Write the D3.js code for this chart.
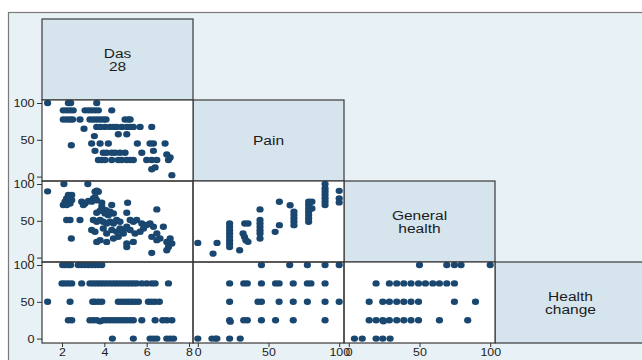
<!DOCTYPE html>
<html>
<head>
<meta charset="utf-8">
<script src="https://cdn.jsdelivr.net/npm/d3@7"></script>
<style>
  html, body { margin: 0; padding: 0; background: #ffffff; }
  svg { display: block; }
  text { font-family: Arial, "Liberation Sans", sans-serif; fill: #1c1c1c; }
</style>
</head>
<body>
<svg id="chart" width="642" height="360"></svg>
<script>
// Variables of the half scatter-plot matrix
const variables = ["Das\n28", "Pain", "General\nhealth", "Health\nchange"];

// Tick labels
const das28Ticks = [2, 4, 6, 8];
const scoreTicks = [0, 50, 100];

// Das28 (x) against Pain (y)
const das28VsPain = [
  [1.32,100],[2.30,100],[2.41,100],[3.64,100],
  [2.06,90],[2.22,90],[2.38,90],[2.53,90],[3.09,90],[3.25,90],[3.40,90],[3.56,90],[3.72,90],[4.35,90],
  [2.06,77.5],[2.22,77.5],[2.38,77.5],[2.50,77.5],[2.85,77.5],[3.32,77.5],[3.48,77.5],[3.64,77.5],[3.80,77.5],
  [3.95,77.5],[4.08,77.5],[4.98,77.5],[5.14,77.5],[5.22,77.5],
  [3.04,65],
  [3.64,67.5],[3.80,67.5],[4.03,67.5],[4.27,67.5],[4.43,67.5],[4.58,67.5],[4.82,67.5],[5.06,67.5],[5.22,67.5],
  [5.37,67.5],[5.69,67.5],[6.24,67.5],
  [4.66,57.5],[5.06,57.5],[3.53,55],[2.44,42.5],
  [3.40,45],[3.80,45],[4.19,45],[5.56,45],[6.16,45],[6.32,45],[6.87,45],
  [3.56,35],
  [3.95,32.5],[4.11,32.5],[4.35,32.5],[4.51,32.5],[4.74,32.5],[4.98,32.5],[5.77,32.5],[6.32,35],
  [6.95,30],
  [3.72,22.5],[3.88,22.5],[4.03,22.5],[4.35,22.5],[4.66,22.5],[4.82,22.5],[5.06,22.5],[5.22,22.5],[5.37,22.5],
  [6.00,22.5],[6.24,22.5],[6.48,22.5],[7.03,22.5],[7.11,26],
  [6.24,10],[6.40,12.5],[7.19,2]
];

// Das28 (x) against General health (y)
const das28VsGeneral = [
  [1.32,90],[2.09,100],[3.22,100],
  [2.30,85],[2.46,85],[2.22,80.5],[2.38,80.5],[2.14,76],[2.30,76],[2.06,71.4],[2.22,71.4],[2.38,73.6],[2.46,78.3],
  [2.93,76],[3.01,71.4],[3.09,73.6],
  [3.25,77],[3.40,76],[3.48,80.5],[3.56,89.5],[3.64,91],[3.72,89.5],[3.56,82],[3.64,78],
  [3.88,74.5],[3.88,69],[4.35,71.4],[5.10,74.5],[6.48,65.5],
  [2.22,51],[2.38,51],[2.85,51],[2.44,26],
  [4.08,64.5],[4.03,60],[4.19,57.7],[4.43,60],[4.27,62.3],[3.64,61],[3.80,63.6],
  [3.48,51],[3.64,48.7],[3.80,51],[3.95,48.7],[4.11,46.4],[4.27,48.7],[4.43,46.4],[4.58,51],[4.74,48.7],
  [3.40,37.4],[3.56,35.1],[3.95,39.6],[4.11,32.7],[4.35,37.4],[4.58,35.1],[4.74,39.6],[4.90,37.4],
  [5.06,61],
  [5.22,51],[5.37,48.7],[5.53,51],[5.77,46.4],[6.00,44.2],
  [5.06,41.9],[5.22,37.4],[5.45,32.7],[5.69,35.1],[5.85,39.6],
  [6.16,46.4],[6.32,41.9],[6.48,32.7],[6.63,25.9],[6.24,28.2],[6.48,23.7],
  [3.64,21.3],[3.80,23.7],[4.11,21.3],[4.43,25.9],[4.66,28.2],[4.90,32.7],
  [5.06,19.1],[5.37,21.3],[5.06,14.5],
  [6.79,41.9],
  [6.95,21.3],[7.11,25.9],[7.19,19.1],[7.03,14.5],[6.95,10],
  [6.24,6.3]
];

// Das28 (x) against Health change (y)
const das28VsChange = [
  [2.03,100],[2.14,100],[2.30,100],[2.41,100],
  [2.77,100],[2.93,100],[3.09,100],[3.25,100],[3.40,100],[3.56,100],[3.72,100],[3.88,100],
  [2.00,75],[2.14,75],[2.30,75],[2.46,75],[2.93,75],
  [3.32,75],[3.48,75],[3.64,75],[3.80,75],[3.95,75],[4.11,75],[4.27,75],[4.43,75],[4.58,75],[4.74,75],
  [4.90,75],[5.06,75],[5.22,75],[5.37,75],[5.53,75],[5.77,75],[6.00,75],[6.24,75],[6.40,75],[7.03,75],
  [1.32,50],[2.38,50],[3.45,50],[3.56,50],[3.72,50],[3.88,50],
  [4.66,50],[4.82,50],[4.98,50],[5.14,50],[5.30,50],[5.45,50],[5.61,50],
  [6.08,50],[6.24,50],[6.40,50],[6.60,50],
  [2.30,25],[2.46,25],
  [3.32,25],[3.48,25],[3.64,25],[3.80,23.5],[3.95,25],[4.11,25],[4.27,25],[4.43,25],[4.58,25],[4.74,25],
  [4.90,25],[5.06,25],[5.22,25],[5.37,25],[5.77,25],[6.40,25],[6.76,25],[6.95,25],[7.19,25],
  [4.38,0],[5.37,0],[6.16,0],[6.32,0],[6.48,0],[6.95,0],[7.11,0],[7.27,0]
];

// Pain (x) against General health (y)
const painVsGeneral = [
  [0,20],[10.8,5.4],[13.6,20],
  [22.5,46.3],[22.5,41.8],[22.5,37.2],[22.5,32.7],[22.5,28.2],[22.5,23.6],[22.5,19.1],[22.5,14.5],
  [29.6,10],[33.2,46.3],[35.5,46.3],[32,32.7],[33,28.2],[34,23.6],[35.5,21.4],
  [44,65.5],[44,51],[44,46.3],[44,41.8],[44,37.2],[44,32.7],[44,25.9],
  [54.7,35],[57.7,44.1],[57.7,75.9],[65.3,71.2],
  [68,62.5],[68,57.8],[68,53.3],[68,48.8],[68,44.1],
  [78.4,75.9],[78.4,71.4],[78.4,66.8],[78.4,62.3],[78.4,57.8],[78.4,53.3],[78.4,48.8],
  [80.7,75.9],[80.7,66.8],
  [90,100],[90,94],[90,89.5],[90,85],[90,80.5],[90,75.9],[90,71.4],
  [100,90.7],[100,80.5],[100,75]
];

// Pain (x) against Health change (y)
const painVsChange = [
  [45,100],[65,100],[77.5,100],[90,100],[100,100],
  [22.5,75],[32.5,75],[35,75],[45,75],[55,75],[57.5,75],[67.5,75],[77.5,75],[80,75],[90,75],
  [22.5,50],[42.5,50],[45,50],[57.5,50],[67.5,50],[77.5,50],[90,50],[100,50],
  [22.5,25],[23,23],[32.5,25],[35,25],[45,25],[55,25],[67.5,25],[90,25],
  [0,0],[10,0],[12.5,0],[13.5,0],[22.5,0],[30,0]
];

// General health (x) against Health change (y)
const generalVsChange = [
  [50,100],[69.3,100],[74.7,100],[79.4,100],[100,100],
  [19.3,75],[28.7,75],[33.9,75],[38.9,75],[44,75],[49.3,75],[54.2,75],[59.4,75],[64.1,75],[69.3,75],[74.7,75],
  [14.4,50],[24,50],[28.7,50],[33.9,50],[38.9,50],[44,50],[49.3,50],[74.7,50],[89.6,50],
  [14.4,25],[19.3,25],[24,25],[24.5,23.5],[28.7,25],[33.9,25],[38.9,25],[44,25],[49.3,25],[64.1,25],[84.1,25],
  [4,0],[9.5,0],[19.3,0],[24,0],[29.2,0]
];

const svg = d3.select("#chart");
const W = 642, H = 360;

// Cell grid geometry
const cellW = 151, cellH = 81;
const colLeft = i => 42 + i * cellW;
const rowTop = i => 19 + i * cellH;

// Background of the graph region
svg.append("rect").attr("x", 0).attr("y", 0).attr("width", W).attr("height", H).attr("fill", "#ffffff");
svg.append("rect").attr("x", 8.5).attr("y", 12.5).attr("width", W).attr("height", H)
  .attr("fill", "#e8f1f5").attr("stroke", "#7a7a7a").attr("stroke-width", 1.2);

// Scales: x per column, y per row
function xScale(col) {
  const l = colLeft(col), r = l + cellW;
  if (col === 0) return d3.scaleLinear().domain([2, 8]).range([62, 189]);
  return d3.scaleLinear().domain([0, 100]).range([l + 4.8, r - 4.8]);
}
function yScale(row) {
  const t = rowTop(row), b = t + cellH;
  return d3.scaleLinear().domain([0, 100]).range([b - 4.4, t + 3]);
}

const dotColor = "#1a476f";

// Diagonal label cells
variables.forEach((name, i) => {
  const x = colLeft(i), y = rowTop(i);
  svg.append("rect").attr("x", x).attr("y", y).attr("width", cellW).attr("height", cellH)
    .attr("fill", "#d6e4ed").attr("stroke", "#3a3a3a").attr("stroke-width", 1.2);
  const lines = name.split("\n");
  const cx = x + cellW / 2, cy = y + cellH / 2;
  const lh = 13;
  lines.forEach((ln, k) => {
    const ty = cy + (k - (lines.length - 1) / 2) * lh;
    svg.append("text")
      .attr("transform", `translate(${cx},${ty}) scale(1.15,1)`)
      .attr("text-anchor", "middle").attr("dominant-baseline", "central")
      .attr("font-size", 13.5).text(ln);
  });
});

// Scatter panels below the diagonal
const panels = [
  { row: 1, col: 0, data: das28VsPain },
  { row: 2, col: 0, data: das28VsGeneral },
  { row: 3, col: 0, data: das28VsChange },
  { row: 2, col: 1, data: painVsGeneral },
  { row: 3, col: 1, data: painVsChange },
  { row: 3, col: 2, data: generalVsChange }
];

panels.forEach(p => {
  const x0 = colLeft(p.col), y0 = rowTop(p.row);
  svg.append("rect").attr("x", x0).attr("y", y0).attr("width", cellW).attr("height", cellH)
    .attr("fill", "#ffffff");
});

panels.forEach(p => {
  const xs = xScale(p.col), ys = yScale(p.row);
  svg.append("g").selectAll("ellipse").data(p.data).join("ellipse")
    .attr("cx", d => xs(d[0])).attr("cy", d => ys(d[1])).attr("rx", 3.6).attr("ry", 3.2)
    .attr("fill", dotColor);
});

panels.forEach(p => {
  const x0 = colLeft(p.col), y0 = rowTop(p.row);
  svg.append("rect").attr("x", x0).attr("y", y0).attr("width", cellW).attr("height", cellH)
    .attr("fill", "none").attr("stroke", "#3a3a3a").attr("stroke-width", 1.2);
});

// Left axes (rows 1-3)
[1, 2, 3].forEach(row => {
  const ys = yScale(row);
  const g = svg.append("g").attr("transform", `translate(${colLeft(0)},0)`);
  const ax = d3.axisLeft(ys).tickValues(scoreTicks).tickSize(5).tickPadding(3).tickFormat(d3.format("d"));
  g.call(ax);
  g.select(".domain").remove();
  g.selectAll(".tick line").attr("stroke", "#333").attr("stroke-width", 1);
  g.selectAll(".tick text").attr("font-size", 11).attr("fill", "#1c1c1c")
    .attr("font-family", "Arial, 'Liberation Sans', sans-serif")
    .attr("transform", "scale(1.15,1)").attr("x", -7.5 / 1.15);
});

// Bottom axes (columns 0-2)
[0, 1, 2].forEach(col => {
  const xs = xScale(col);
  const g = svg.append("g").attr("transform", `translate(0,${rowTop(3) + cellH})`);
  const ax = d3.axisBottom(xs).tickValues(col === 0 ? das28Ticks : scoreTicks)
    .tickSize(4).tickPadding(1.5).tickFormat(d3.format("d"));
  g.call(ax);
  g.select(".domain").remove();
  g.selectAll(".tick line").attr("stroke", "#333").attr("stroke-width", 1);
  g.selectAll(".tick text").attr("font-size", 10.5).attr("fill", "#1c1c1c")
    .attr("font-family", "Arial, 'Liberation Sans', sans-serif")
    .attr("transform", "scale(1.18,1)");
});
</script>
</body>
</html>
